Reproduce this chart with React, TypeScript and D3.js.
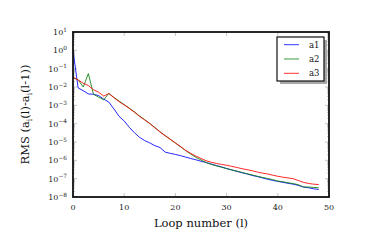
import * as d3 from 'd3'
import React, { useEffect, useRef } from 'react'

const loops = d3.range(0, 49)

const a1 = [
  1.0, 8.9e-3, 6.3e-3, 4.2e-3, 4.0e-3, 3.4e-3, 2.2e-3, 1.5e-3, 6.3e-4, 2.5e-4,
  1.4e-4, 6.3e-5, 3.2e-5, 1.8e-5, 1.2e-5, 8.9e-6, 6.3e-6, 5.0e-6, 2.8e-6, 2.4e-6,
  2.1e-6, 1.8e-6, 1.5e-6, 1.26e-6, 1.07e-6, 8.9e-7, 7.6e-7, 6.3e-7, 5.2e-7, 4.4e-7,
  3.6e-7, 3.0e-7, 2.5e-7, 2.1e-7, 1.8e-7, 1.5e-7, 1.3e-7, 1.1e-7, 9.3e-8, 8.1e-8,
  7.1e-8, 6.3e-8, 5.6e-8, 5.0e-8, 4.3e-8, 3.5e-8, 3.2e-8, 2.8e-8, 2.6e-8,
]

const a2 = [
  3.2e-2, 2.5e-2, 1.0e-2, 5.4e-2, 4.0e-3, 2.8e-3, 2.0e-3, 4.5e-3, 2.7e-3, 1.7e-3,
  1.1e-3, 7.0e-4, 4.4e-4, 2.6e-4, 1.65e-4, 1.03e-4, 6.2e-5, 3.6e-5, 2.25e-5, 1.4e-5,
  8.8e-6, 5.5e-6, 3.4e-6, 2.2e-6, 1.45e-6, 1.05e-6, 7.6e-7, 6.0e-7, 5.0e-7, 4.2e-7,
  3.5e-7, 3.0e-7, 2.6e-7, 2.2e-7, 1.86e-7, 1.6e-7, 1.35e-7, 1.17e-7, 1.02e-7, 8.9e-8,
  7.4e-8, 6.8e-8, 6.0e-8, 5.4e-8, 4.7e-8, 3.5e-8, 3.5e-8, 3.3e-8, 3.2e-8,
]

const a3 = [
  3.4e-2, 2.4e-2, 1.6e-2, 1.2e-2, 7.1e-3, 5.2e-3, 3.2e-3, 4.4e-3, 2.6e-3, 1.6e-3,
  1.05e-3, 6.8e-4, 4.2e-4, 2.5e-4, 1.6e-4, 1.0e-4, 6.0e-5, 3.5e-5, 2.2e-5, 1.4e-5,
  8.9e-6, 5.6e-6, 3.5e-6, 2.4e-6, 1.7e-6, 1.26e-6, 9.5e-7, 7.9e-7, 6.8e-7, 6.0e-7,
  5.4e-7, 4.7e-7, 4.1e-7, 3.5e-7, 3.1e-7, 2.7e-7, 2.3e-7, 2.0e-7, 1.8e-7, 1.55e-7,
  1.35e-7, 1.2e-7, 1.1e-7, 1.0e-7, 7.9e-8, 6.3e-8, 5.5e-8, 5.0e-8, 4.8e-8,
]

const seriesNames = ['a1', 'a2', 'a3']
const seriesColors = ['#0000ff', '#0a800a', '#ff0000']
const xTicks = [0, 10, 20, 30, 40, 50]
const yExponents = [1, 0, -1, -2, -3, -4, -5, -6, -7, -8]

const font = "'DejaVu Serif', serif"

export default function App() {
  const ref = useRef<SVGSVGElement>(null)

  useEffect(() => {
    if (!ref.current) return
    const svg = d3.select(ref.current)
    svg.selectAll('*').remove()

    const left = 73
    const right = 329
    const top = 32
    const bottom = 197

    const x = d3.scaleLinear().domain([0, 50]).range([left, right])
    const y = d3.scaleLog().domain([1e-8, 1e1]).range([bottom, top])

    const data = [a1, a2, a3]

    // ticks (grey, inward, all four sides)
    const tickG = svg.append('g').attr('stroke', '#a0a0a0').attr('stroke-width', 0.6)
    xTicks.forEach(t => {
      tickG.append('line').attr('x1', x(t)).attr('x2', x(t)).attr('y1', bottom).attr('y2', bottom - 4)
      tickG.append('line').attr('x1', x(t)).attr('x2', x(t)).attr('y1', top).attr('y2', top + 4)
    })
    yExponents.forEach(e => {
      const v = Math.pow(10, e)
      tickG.append('line').attr('x1', left).attr('x2', left + 4).attr('y1', y(v)).attr('y2', y(v))
      tickG.append('line').attr('x1', right).attr('x2', right - 4).attr('y1', y(v)).attr('y2', y(v))
      if (e < 1) {
        for (let m = 2; m <= 9; m++) {
          const mv = m * v
          tickG.append('line').attr('x1', left).attr('x2', left + 2).attr('y1', y(mv)).attr('y2', y(mv))
          tickG.append('line').attr('x1', right).attr('x2', right - 2).attr('y1', y(mv)).attr('y2', y(mv))
        }
      }
    })

    // lines
    const line = d3
      .line<number>()
      .x((_, i) => x(loops[i]))
      .y(d => y(d))
    data.forEach((s, i) => {
      svg
        .append('path')
        .attr('d', line(s))
        .attr('fill', 'none')
        .attr('stroke', seriesColors[i])
        .attr('stroke-width', 0.85)
        .attr('stroke-linejoin', 'round')
    })

    // frame
    svg
      .append('rect')
      .attr('x', left)
      .attr('y', top)
      .attr('width', right - left)
      .attr('height', bottom - top)
      .attr('fill', 'none')
      .attr('stroke', '#111')
      .attr('stroke-width', 1.8)

    // x tick labels
    xTicks.forEach(t => {
      svg
        .append('text')
        .attr('x', x(t))
        .attr('y', bottom + 13)
        .attr('text-anchor', 'middle')
        .attr('font-family', font)
        .attr('font-size', 8)
        .attr('fill', '#222')
        .text(t)
    })

    // y tick labels 10^k
    yExponents.forEach(e => {
      const v = Math.pow(10, e)
      const t = svg
        .append('text')
        .attr('x', left - 6)
        .attr('y', y(v) + 3)
        .attr('text-anchor', 'end')
        .attr('font-family', font)
        .attr('font-size', 8)
        .attr('fill', '#222')
      t.append('tspan').text('10')
      t.append('tspan')
        .attr('dy', -3.5)
        .attr('font-size', 5.8)
        .text(e < 0 ? '\u2212' + Math.abs(e) : String(e))
    })

    // axis labels
    svg
      .append('text')
      .attr('x', (left + right) / 2)
      .attr('y', bottom + 30)
      .attr('text-anchor', 'middle')
      .attr('font-family', font)
      .attr('font-size', 11.5)
      .attr('fill', '#111')
      .text('Loop number (l)')

    const yl = svg
      .append('text')
      .attr('transform', `translate(29,${(top + bottom) / 2}) rotate(-90)`)
      .attr('text-anchor', 'middle')
      .attr('font-family', font)
      .attr('font-size', 11.5)
      .attr('fill', '#111')
    yl.append('tspan').text('RMS (a')
    yl.append('tspan').attr('font-size', 7.5).attr('dy', 2.5).text('i')
    yl.append('tspan').attr('dy', -2.5).text('(l)-a')
    yl.append('tspan').attr('font-size', 7.5).attr('dy', 2.5).text('i')
    yl.append('tspan').attr('dy', -2.5).text('(l-1))')

    // legend
    const lx = 277
    const ly = 37
    const lw = 47
    const lh = 44
    svg.append('rect').attr('x', lx + 3).attr('y', ly + 3).attr('width', lw).attr('height', lh).attr('fill', '#a8a8a8')
    svg
      .append('rect')
      .attr('x', lx)
      .attr('y', ly)
      .attr('width', lw)
      .attr('height', lh)
      .attr('fill', 'white')
      .attr('stroke', '#111')
      .attr('stroke-width', 1.2)
    seriesNames.forEach((name, i) => {
      const cy = ly + 7.7 + i * 14.3
      svg
        .append('line')
        .attr('x1', lx + 7)
        .attr('x2', lx + 22)
        .attr('y1', cy)
        .attr('y2', cy)
        .attr('stroke', seriesColors[i])
        .attr('stroke-width', 0.8)
      svg
        .append('text')
        .attr('x', lx + 32)
        .attr('y', cy + 3)
        .attr('font-family', font)
        .attr('font-size', 8.5)
        .attr('fill', '#111')
        .text(name)
    })
  }, [])

  return (
    <svg
      ref={ref}
      width={366}
      height={246}
      style={{ position: 'absolute', left: 0, top: 0, background: 'white' }}
    />
  )
}
